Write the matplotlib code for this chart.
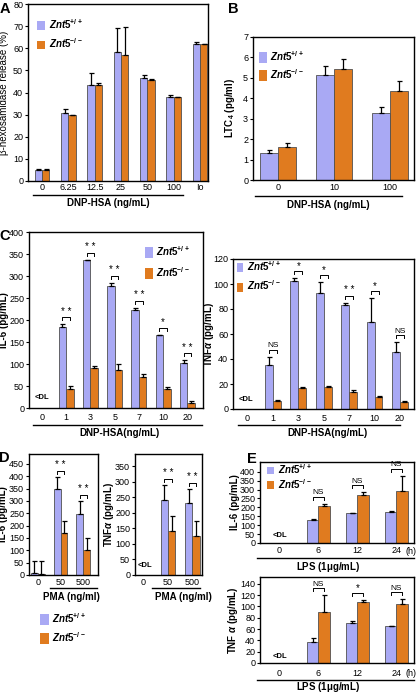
import numpy as np
import matplotlib
matplotlib.use('Agg')
import matplotlib.pyplot as plt
from matplotlib.patches import Patch
from matplotlib.lines import Line2D

plt.rcParams['font.family'] = ['Liberation Sans', 'DejaVu Sans']
plt.rcParams['mathtext.fontset'] = 'custom'
plt.rcParams['mathtext.rm'] = 'Liberation Sans:bold'
plt.rcParams['mathtext.it'] = 'Liberation Sans:italic:bold'
plt.rcParams['mathtext.bf'] = 'Liberation Sans:bold'

nan = np.nan

# A: beta-hexosaminidase release (%)
A_doses = ['0', '6.25', '12.5', '25', '50', '100', 'Io']
A_wt = [5.0, 30.6, 43.5, 58.5, 46.5, 38.0, 62.0]
A_wt_err = [0.2, 2.0, 5.5, 10.5, 1.5, 0.8, 0.7]
A_ko = [5.0, 29.7, 43.2, 57.0, 45.5, 37.8, 61.7]
A_ko_err = [0.2, 0.3, 1.3, 12.8, 0.4, 0.3, 0.4]

# B: LTC4 (pg/ml)
B_doses = ['0', '10', '100']
B_wt = [1.33, 5.15, 3.30]
B_wt_err = [0.15, 0.45, 0.25]
B_ko = [1.60, 5.42, 4.37]
B_ko_err = [0.22, 0.48, 0.50]

# C: DNP-HSA stimulation
C_doses = ['0', '1', '3', '5', '7', '10', '20']
C_il6_wt = [nan, 185, 336, 277, 222, 165, 102]
C_il6_wt_err = [nan, 5, 1, 8, 6, 1, 6]
C_il6_ko = [nan, 44, 92, 87, 70, 44, 12]
C_il6_ko_err = [nan, 6, 3, 13, 8, 3, 4]
C_il6_sig = ['', '* *', '* *', '* *', '* *', '*', '* *']
C_tnf_wt = [nan, 35, 102.5, 93, 83.5, 70, 46]
C_tnf_wt_err = [nan, 7, 2, 8.5, 1.5, 18.5, 7.5]
C_tnf_ko = [nan, 6.5, 17, 18, 14, 10, 5.5]
C_tnf_ko_err = [nan, 1, 0.3, 0.5, 1.5, 0.5, 1]
C_tnf_sig = ['', 'NS', '*', '*', '* *', '*', 'NS']

# D: PMA stimulation
D_doses = ['0', '50', '500']
D_il6_wt = [8, 347, 248]
D_il6_wt_err = [50, 51, 52]
D_il6_ko = [5, 170, 100]
D_il6_ko_err = [50, 48, 48]
D_il6_sig = ['', '* *', '* *']
D_tnf_wt = [nan, 240, 230]
D_tnf_wt_err = [nan, 50, 48]
D_tnf_ko = [nan, 140, 125]
D_tnf_ko_err = [nan, 50, 48]
D_tnf_sig = ['', '* *', '* *']

# E: LPS stimulation
E_times = ['0', '6', '12', '24']
E_il6_wt = [nan, 128, 168, 176]
E_il6_wt_err = [nan, 7, 2, 2]
E_il6_ko = [nan, 208, 270, 292]
E_il6_ko_err = [nan, 12, 15, 86]
E_il6_sig = ['', 'NS', 'NS', 'NS']
E_tnf_wt = [nan, 38, 71, 65]
E_tnf_wt_err = [nan, 6, 3, 0.5]
E_tnf_ko = [nan, 90, 108, 105]
E_tnf_ko_err = [nan, 30, 3, 8]
E_tnf_sig = ['', 'NS', '*', 'NS']

WT_C = '#a9a9f4'
KO_C = '#e07b1f'
EDGE = '#505050'
WT_LAB = r'$Znt5^{+/+}$'
KO_LAB = r'$Znt5^{-/-}$'
TICK_FS = 6.5

W, H = 416, 694
fig = plt.figure(figsize=(W / 100, H / 100), dpi=100)


def add_ax(l, t, r, b):
    ax = fig.add_axes([l / W, 1 - b / H, (r - l) / W, (b - t) / H])
    ax.box = (l, t, r, b)
    for s in ax.spines.values():
        s.set_linewidth(1.0)
    ax.tick_params(axis='y', direction='out', length=2.5, width=0.8, pad=1.0, labelsize=TICK_FS)
    return ax


def draw_bars(ax, wt, wt_err, ko, ko_err, width):
    x = np.arange(len(wt))
    wt, wt_err = np.asarray(wt, float), np.asarray(wt_err, float)
    ko, ko_err = np.asarray(ko, float), np.asarray(ko_err, float)
    ax.bar(x - width / 2, np.nan_to_num(wt), width, color=WT_C, edgecolor=EDGE, lw=0.6, zorder=2)
    ax.bar(x + width / 2, np.nan_to_num(ko), width, color=KO_C, edgecolor=EDGE, lw=0.6, zorder=2)
    for xs, v, e in [(x - width / 2, wt, wt_err), (x + width / 2, ko, ko_err)]:
        ax.errorbar(xs, v, yerr=[np.zeros_like(e), e], fmt='none', ecolor='k',
                    elinewidth=0.9, capsize=1.8, capthick=0.9, zorder=3)
    tops = np.fmax(wt + wt_err, ko + ko_err)
    return x, tops


def brackets(ax, x, tops, labels, width, off=4, h=3, fs=7):
    l, t, r, b = ax.box
    lo, hi = ax.get_ylim()
    pxh = (hi - lo) / (b - t)
    for xi, top, lab in zip(x, tops, labels):
        if not lab:
            continue
        y0 = top + off * pxh
        y1 = y0 + h * pxh
        ax.plot([xi - width / 2, xi - width / 2, xi + width / 2, xi + width / 2],
                [y0, y1, y1, y0], color='k', lw=0.7, clip_on=False, zorder=4)
        size = 6 if lab == 'NS' else fs
        ax.text(xi, y1 + 0.5 * pxh, lab, ha='center', va='bottom', fontsize=size, clip_on=False)


def set_x(ax, labels, xlim, pad):
    ax.set_xticks(np.arange(len(labels)), labels)
    ax.set_xlim(*xlim)
    ax.tick_params(axis='x', length=0, pad=pad, labelsize=TICK_FS)


def ylabel_at(ax, text, px, bold=True, fs=7):
    # px is the horizontal centre of the rotated label, in figure pixels
    l, t, r, b = ax.box
    ax.set_ylabel(text, fontsize=fs, fontweight='bold' if bold else 'normal')
    ax.yaxis.set_label_coords((px + 4.5 - l) / (r - l), 0.5)


def under(x0, x1, y, label, lx, ly):
    fig.add_artist(Line2D([x0 / W, x1 / W], [1 - y / H, 1 - y / H], color='k', lw=1.0))
    fig.text(lx / W, 1 - ly / H, label, ha='center', va='center', fontsize=7, fontweight='bold')


def legend_at(ax, px, py, hl, hh, ls, fs=7):
    l, t, r, b = ax.box
    handles = [Patch(facecolor=WT_C, edgecolor='none', label=WT_LAB),
               Patch(facecolor=KO_C, edgecolor='none', label=KO_LAB)]
    ax.legend(handles=handles, loc='upper left', frameon=False, fontsize=fs,
              bbox_to_anchor=((px - l) / (r - l), (b - py) / (b - t)),
              borderaxespad=0, borderpad=0, handlelength=hl, handleheight=hh,
              handletextpad=0.35, labelspacing=ls)


def dl(ax, x, y):
    ax.text(x, y, '<DL', fontsize=5.5, fontweight='bold', ha='center', va='bottom')


def letter(px, py, s):
    fig.text(px / W, 1 - py / H, s, fontsize=10.5, fontweight='bold', ha='left', va='top')


# ---- A ----
axA = add_ax(28, 4, 208, 181)
axA.set_ylim(0, 80)
axA.set_yticks(np.arange(0, 81, 10))
x, tops = draw_bars(axA, A_wt, A_wt_err, A_ko, A_ko_err, 0.28)
set_x(axA, A_doses, (-0.53, 6.3), 1.5)
ylabel_at(axA, 'β-hexosamidase release (%)', 5, bold=False)
legend_at(axA, 37, 17, 0.85, 0.95, 0.6)
under(33, 183, 195, 'DNP-HSA (ng/mL)', 108, 203)
letter(0, 2, 'A')

# ---- B ----
axB = add_ax(253, 37, 414, 180)
axB.set_ylim(0, 7)
axB.set_yticks(np.arange(0, 8, 1))
x, tops = draw_bars(axB, B_wt, B_wt_err, B_ko, B_ko_err, 0.32)
set_x(axB, B_doses, (-0.45, 2.43), 2.5)
ylabel_at(axB, r'LTC$_4$ (pg/ml)', 233)
legend_at(axB, 259, 49, 0.8, 1.35, 0.45)
under(255, 402, 196, 'DNP-HSA (ng/mL)', 328, 205)
letter(228, 2, 'B')

# ---- C left ----
axC1 = add_ax(29, 232, 203, 408)
axC1.set_ylim(0, 400)
axC1.set_yticks(np.arange(0, 401, 50))
x, tops = draw_bars(axC1, C_il6_wt, C_il6_wt_err, C_il6_ko, C_il6_ko_err, 0.31)
set_x(axC1, C_doses, (-0.53, 6.64), 3.5)
brackets(axC1, x, tops, C_il6_sig, 0.31)
dl(axC1, 0, 15)
ylabel_at(axC1, 'IL-6 (pg/mL)', 5)
legend_at(axC1, 145, 244, 0.8, 1.25, 0.75)
under(33, 202, 425, 'DNP-HSA(ng/mL)', 120, 433)
letter(-1, 229, 'C')

# ---- C right ----
axC2 = add_ax(233, 259, 414, 409)
axC2.set_ylim(0, 120)
axC2.set_yticks(np.arange(0, 121, 20))
x, tops = draw_bars(axC2, C_tnf_wt, C_tnf_wt_err, C_tnf_ko, C_tnf_ko_err, 0.31)
set_x(axC2, C_doses, (-0.57, 6.55), 3.5)
brackets(axC2, x, tops, C_tnf_sig, 0.31)
dl(axC2, -0.05, 5)
ylabel_at(axC2, r'TNF$\alpha$ (pg/mL)', 212)
legend_at(axC2, 237, 259, 0.65, 1.05, 0.6)
under(238, 400, 425, 'DNP-HSA(ng/mL)', 327, 433)

# ---- D left ----
axD1 = add_ax(29, 454, 98, 575)
axD1.set_ylim(0, 490)
axD1.set_yticks(np.arange(0, 451, 50))
x, tops = draw_bars(axD1, D_il6_wt, D_il6_wt_err, D_il6_ko, D_il6_ko_err, 0.3)
set_x(axD1, D_doses, (-0.39, 2.65), 2.5)
brackets(axD1, x, tops, D_il6_sig, 0.3, off=3)
ylabel_at(axD1, 'IL-6 (pg/mL)', 4)
under(50, 97, 588, 'PMA (ng/ml)', 71, 597)
letter(-1, 451, 'D')

# ---- D right ----
axD2 = add_ax(135, 454, 202, 575)
axD2.set_ylim(0, 389)
axD2.set_yticks(np.arange(0, 351, 50))
x, tops = draw_bars(axD2, D_tnf_wt, D_tnf_wt_err, D_tnf_ko, D_tnf_ko_err, 0.3)
set_x(axD2, D_doses, (-0.35, 2.39), 2.5)
brackets(axD2, x, tops, D_tnf_sig, 0.3, off=3)
dl(axD2, 0.05, 20)
ylabel_at(axD2, r'TNF$\alpha$ (pg/mL)', 112)
under(152, 200, 588, 'PMA (ng/ml)', 183, 597)

# D legend below panels
handles = [Patch(facecolor=WT_C, edgecolor='none', label=WT_LAB),
           Patch(facecolor=KO_C, edgecolor='none', label=KO_LAB)]
fig.legend(handles=handles, loc='upper left', frameon=False, fontsize=7,
           bbox_to_anchor=(40 / W, 1 - 611 / H), borderaxespad=0, borderpad=0,
           handlelength=0.9, handleheight=1.3, handletextpad=0.35, labelspacing=0.55)

# ---- E top ----
axE1 = add_ax(260, 462, 414, 543)
axE1.set_ylim(0, 455)
axE1.set_yticks(np.arange(0, 401, 50))
x, tops = draw_bars(axE1, E_il6_wt, E_il6_wt_err, E_il6_ko, E_il6_ko_err, 0.29)
set_x(axE1, E_times, (-0.5, 3.45), 2.5)
brackets(axE1, x, tops, E_il6_sig, 0.29, off=4)
dl(axE1, 0, 25)
ylabel_at(axE1, 'IL-6 (pg/mL)', 235)
legend_at(axE1, 267, 462, 0.75, 0.85, 0.1)
fig.text(411 / W, 1 - 551 / H, '(h)', fontsize=6.5, ha='center', va='center')
under(257, 414, 558, r'LPS (1$\mathregular{\mu}$g/mL)', 328, 567)
letter(247, 452, 'E')

# ---- E bottom ----
axE2 = add_ax(260, 577, 414, 663)
axE2.set_ylim(0, 152)
axE2.set_yticks(np.arange(0, 141, 20))
x, tops = draw_bars(axE2, E_tnf_wt, E_tnf_wt_err, E_tnf_ko, E_tnf_ko_err, 0.29)
set_x(axE2, E_times, (-0.5, 3.45), 4)
brackets(axE2, x, tops, E_tnf_sig, 0.29, off=4)
dl(axE2, 0, 5)
ylabel_at(axE2, r'TNF $\alpha$ (pg/mL)', 235)
fig.text(411 / W, 1 - 673 / H, '(h)', fontsize=6.5, ha='center', va='center')
under(257, 414, 680, r'LPS (1$\mathregular{\mu}$g/mL)', 328, 687.5)

fig.savefig('out.png', dpi=100)
